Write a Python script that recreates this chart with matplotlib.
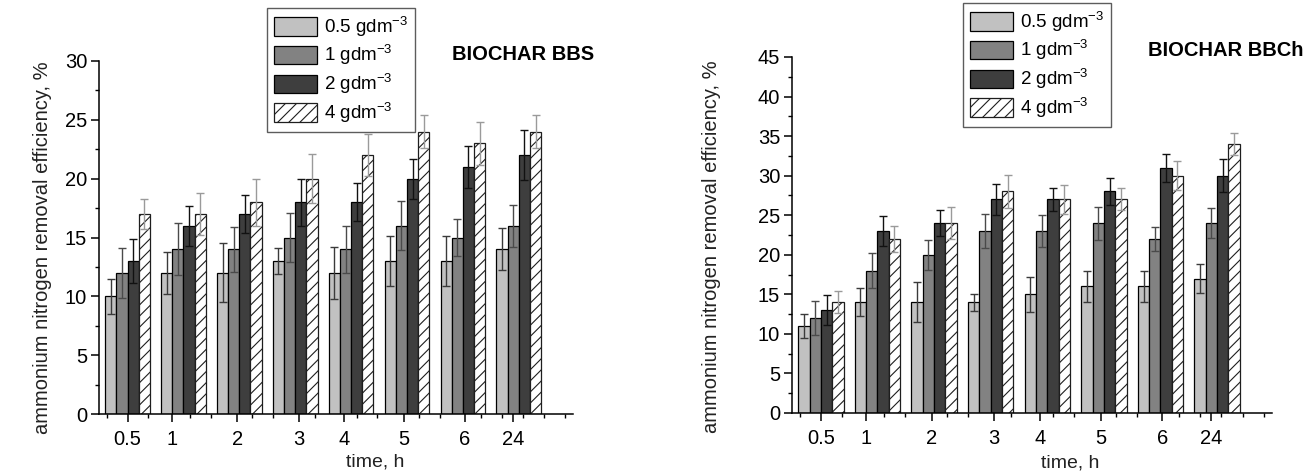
import numpy as np
import matplotlib
matplotlib.use('Agg')
import matplotlib.pyplot as plt
from matplotlib.ticker import MultipleLocator, FixedLocator

plt.rcParams['font.family'] = ['Liberation Sans', 'DejaVu Sans']
plt.rcParams['mathtext.fontset'] = 'custom'
plt.rcParams['mathtext.rm'] = 'Liberation Sans'
plt.rcParams['mathtext.default'] = 'regular'
plt.rcParams['hatch.linewidth'] = 0.8

# time points and doses
times = ['0.5', '1', '2', '3', '4', '5', '6', '24']
doses = ['0.5 gdm$^{-3}$', '1 gdm$^{-3}$', '2 gdm$^{-3}$', '4 gdm$^{-3}$']

# BIOCHAR BBS, removal efficiency %
bbs_05 = [10, 12, 12, 13, 12, 13, 13, 14]
bbs_1 = [12, 14, 14, 15, 14, 16, 15, 16]
bbs_2 = [13, 16, 17, 18, 18, 20, 21, 22]
bbs_4 = [17, 17, 18, 20, 22, 24, 23, 24]
bbs_05_err = [1.5, 1.8, 2.5, 1.1, 2.2, 2.1, 2.1, 1.8]
bbs_1_err = [2.1, 2.2, 1.9, 2.1, 2.0, 2.1, 1.6, 1.8]
bbs_2_err = [1.9, 1.7, 1.6, 2.0, 1.6, 1.7, 1.8, 2.1]
bbs_4_err = [1.3, 1.8, 2.0, 2.1, 1.8, 1.4, 1.8, 1.4]

# BIOCHAR BBCh, removal efficiency %
bbch_05 = [11, 14, 14, 14, 15, 16, 16, 17]
bbch_1 = [12, 18, 20, 23, 23, 24, 22, 24]
bbch_2 = [13, 23, 24, 27, 27, 28, 31, 30]
bbch_4 = [14, 22, 24, 28, 27, 27, 30, 34]
bbch_05_err = [1.5, 1.8, 2.5, 1.1, 2.2, 2.0, 2.0, 1.8]
bbch_1_err = [2.1, 2.2, 1.9, 2.1, 2.0, 2.1, 1.5, 1.9]
bbch_2_err = [1.9, 1.9, 1.6, 1.95, 1.5, 1.7, 1.8, 2.1]
bbch_4_err = [1.4, 1.7, 2.0, 2.1, 1.8, 1.4, 1.8, 1.4]

fills = ['#c1c1c1', '#828282', '#3e3e3e', 'white']
ecolors = ['#3a3a3a', '#4a4a4a', '#111111', '#9a9a9a']
label_pos = [0, 0.8, 1.96, 3.06, 3.87, 4.95, 6.03, 6.9]
bar_w = 0.2


def draw_panel(ax, series, errs, ymax, title, title_xy, leg_xy):
    idx = np.arange(len(times))
    for j in range(4):
        x = idx + (j - 1.5) * bar_w
        if j == 3:
            ax.bar(x, series[j], bar_w, color='white', edgecolor='#1e1e1e',
                   hatch='///', linewidth=0.9, label=doses[j], zorder=2)
        else:
            ax.bar(x, series[j], bar_w, color=fills[j], edgecolor='black',
                   linewidth=0.9, label=doses[j], zorder=2)
        ax.errorbar(x, series[j], yerr=errs[j], fmt='none', ecolor=ecolors[j],
                    elinewidth=1.0, capsize=2.6, capthick=1.0, zorder=3)

    ax.set_xlim(-0.51, 7.97)
    ax.set_ylim(0, ymax)
    ax.spines['top'].set_visible(False)
    ax.spines['right'].set_visible(False)
    ax.spines['left'].set_linewidth(1.1)
    ax.spines['bottom'].set_linewidth(1.1)

    ax.set_xticks(label_pos)
    ax.set_xticklabels(times)
    grid = np.arange(-1, 22) * 0.3725
    minor = [g for g in grid if min(abs(g - p) for p in label_pos) > 0.15 and g < 7.96]
    ax.xaxis.set_minor_locator(FixedLocator(minor))
    ax.yaxis.set_major_locator(MultipleLocator(5))
    ax.yaxis.set_minor_locator(MultipleLocator(2.5))
    ax.tick_params(axis='both', which='major', length=5.5, width=1.1, labelsize=14.5, colors='black')
    ax.tick_params(axis='both', which='minor', length=3, width=1.0)
    ax.tick_params(axis='x', which='major', pad=6)
    ax.tick_params(axis='y', which='major', pad=3)

    ax.set_ylabel('ammonium nitrogen removal efficiency, %', fontsize=14.5, color='#222222')
    ax.set_xlabel('time, h', fontsize=14, color='#222222')
    ax.xaxis.label.set_va('center')

    leg = ax.legend(loc='upper left', bbox_to_anchor=leg_xy, bbox_transform=ax.figure.transFigure,
                    fontsize=13.5, frameon=True, fancybox=False, edgecolor='#333333',
                    handlelength=2.3, handleheight=1.15, handletextpad=0.4,
                    labelspacing=0.25, borderpad=0.35, borderaxespad=0)
    leg.get_frame().set_linewidth(1.0)
    ax.figure.text(title_xy[0], title_xy[1], title, fontsize=14.5, fontweight='bold',
                   ha='left', va='center')


fig = plt.figure(figsize=[13.12, 4.76], dpi=100)
W, H = 1312.0, 476.0

ax1 = fig.add_axes([99 / W, (H - 414) / H, 474 / W, 353 / H])
draw_panel(ax1, [bbs_05, bbs_1, bbs_2, bbs_4], [bbs_05_err, bbs_1_err, bbs_2_err, bbs_4_err],
           30, 'BIOCHAR BBS', (452 / W, 1 - 54 / H), (267 / W, 1 - 8 / H))
ax1.yaxis.set_label_coords(-0.1, 0.47)
ax1.xaxis.set_label_coords(0.582, -0.136)

ax2 = fig.add_axes([792 / W, (H - 413) / H, 480 / W, 356 / H])
draw_panel(ax2, [bbch_05, bbch_1, bbch_2, bbch_4], [bbch_05_err, bbch_1_err, bbch_2_err, bbch_4_err],
           45, 'BIOCHAR BBCh', (1148 / W, 1 - 51 / H), (963 / W, 1 - 3 / H))
ax2.yaxis.set_label_coords(-0.148, 0.466)
ax2.xaxis.set_label_coords(0.579, -0.14)

fig.savefig('out.png', dpi=100)
